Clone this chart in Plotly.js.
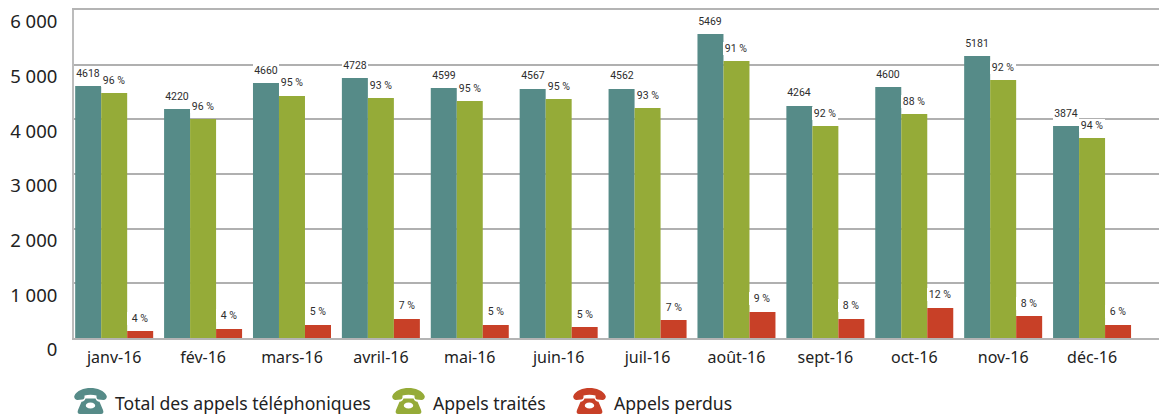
<!DOCTYPE html>
<html>
<head>
<meta charset="utf-8">
<script src="https://cdn.plot.ly/plotly-3.0.1.min.js"></script>
<style>html,body{margin:0;padding:0;background:#fff}#c{width:1159px;height:416px}</style>
</head>
<body>
<div id="c"></div>
<script>
const months = ['janv-16','fév-16','mars-16','avril-16','mai-16','juin-16','juil-16','août-16','sept-16','oct-16','nov-16','déc-16'];
const totalBars = [4609,4189,4664,4756,4573,4555,4555,5561,4244,4591,5158,3878];
const treatedBars = [4481,4006,4427,4390,4335,4372,4207,5067,3878,4097,4719,3658];
const lostBars = [128,165,238,348,238,201,329,476,348,549,402,238];
const totalLabels = ['4618','4220','4660','4728','4599','4567','4562','5469','4264','4600','5181','3874'];
const treatedLabels = ['96 %','96 %','95 %','93 %','95 %','95 %','93 %','91 %','92 %','88 %','92 %','94 %'];
const lostLabels = ['4 %','4 %','5 %','7 %','5 %','5 %','7 %','9 %','8 %','12 %','8 %','6 %'];
const seriesNames = ['Total des appels téléphoniques','Appels traités','Appels perdus'];
const seriesColors = ['#568b88','#95ab38','#c84027'];
const yTicks = [0,1000,2000,3000,4000,5000,6000];
const yTickText = ['0','1 000','2 000','3 000','4 000','5 000','6 000'];

const W = 1159, H = 416, L = 74, T = 10, B = 78, R = 0;
const pw = W - L - R, ph = H - T - B;
const px = x => (x - L) / pw;
const py = y => (H - B - y) / ph;

const seriesBars = [totalBars, treatedBars, lostBars];
const seriesLabels = [totalLabels, treatedLabels, lostLabels];

const traces = seriesBars.map((vals, i) => ({
  type: 'bar', name: seriesNames[i], x: months, y: vals,
  marker: {color: seriesColors[i], line: {width: 0}},
  hoverinfo: 'skip', showlegend: false
}));

const annotations = [];
seriesBars.forEach((vals, i) => {
  vals.forEach((v, j) => {
    annotations.push({
      x: months[j], y: v, xref: 'x', yref: 'y',
      xshift: (i - 1) * 26, yshift: 13,
      xanchor: 'center', yanchor: 'middle', showarrow: false,
      text: seriesLabels[i][j], width: 26, height: 13, borderpad: 0, borderwidth: 0,
      bgcolor: '#ffffff',
      font: {family: 'Roboto, sans-serif', size: 10.5, color: '#2e2e2e'}
    });
  });
});

const legendText = [115, 433, 614];
const legendIcon = [74, 392, 573];
const phone = c => 'data:image/svg+xml;utf8,' + encodeURIComponent(
  '<svg xmlns="http://www.w3.org/2000/svg" width="33" height="26" viewBox="0 0 33 26">' +
  '<path fill="' + c + '" d="M0.3,8 C2.5,2.5 10,0 16.5,0 C23,0 30.5,2.5 32.7,8 C33.2,10.5 31.5,12 29.5,12 L24.5,11.4 C23.2,11.2 22.5,10.4 22.5,9 L22.5,7.5 C19,6.5 14,6.5 10.5,7.5 L10.5,9 C10.5,10.4 9.8,11.2 8.5,11.4 L3.5,12 C1.5,12 -0.2,10.5 0.3,8 Z"/>' +
  '<path fill="' + c + '" fill-rule="evenodd" d="M11.5,10.5 L21.5,10.5 C22,12.5 23.5,13.5 25.5,13.8 L29,22 C30,24.5 29,26 27,26 L6,26 C4,26 3,24.5 4,22 L7.5,13.8 C9.5,13.5 11,12.5 11.5,10.5 Z M16.5,14.5 C13.5,14.5 11.8,16 11.8,17.6 C11.8,19.2 13.5,20.6 16.5,20.6 C19.5,20.6 21.2,19.2 21.2,17.6 C21.2,16 19.5,14.5 16.5,14.5 Z"/>' +
  '</svg>');
const images = seriesNames.map((n, i) => ({
  source: phone(seriesColors[i]), xref: 'paper', yref: 'paper',
  x: px(legendIcon[i]), y: py(388), sizex: 33 / pw, sizey: 26 / ph,
  xanchor: 'left', yanchor: 'top', sizing: 'stretch', layer: 'above'
}));
seriesNames.forEach((n, i) => {
  annotations.push({
    x: px(legendText[i]), y: py(402.5), xref: 'paper', yref: 'paper',
    xanchor: 'left', yanchor: 'middle', showarrow: false, text: n,
    borderpad: 0, borderwidth: 0,
    font: {family: '"Noto Sans", sans-serif', size: 17.6, color: '#222222'}
  });
});

const layout = {
  width: W, height: H, autosize: false,
  margin: {l: L, r: R, t: T, b: B, pad: 0},
  paper_bgcolor: '#fff', plot_bgcolor: '#fff',
  barmode: 'group', bargap: 0.1226, bargroupgap: 0,
  showlegend: false,
  xaxis: {
    type: 'category', categoryorder: 'array', categoryarray: months,
    range: [-0.452, 11.753], showgrid: false, zeroline: false,
    showline: true, mirror: true, linecolor: '#b4b4b4', linewidth: 2,
    ticks: '', ticklen: 0, ticklabelstandoff: 4, fixedrange: true,
    tickfont: {family: '"Noto Sans", sans-serif', size: 16, color: '#222222'}
  },
  yaxis: {
    range: [0, 6000], tickmode: 'array', tickvals: yTicks, ticktext: yTickText,
    showgrid: true, gridcolor: '#b0b0b0', gridwidth: 2, zeroline: false,
    showline: true, linecolor: '#bcbcbc', linewidth: 2, ticks: '',
    ticklabelshift: 12, ticklabelstandoff: 11, fixedrange: true,
    tickfont: {family: '"Noto Sans", sans-serif', size: 18.5, color: '#222222'}
  },
  annotations, images
};

Plotly.newPlot('c', traces, layout, {displayModeBar: false, staticPlot: true});
</script>
</body>
</html>
